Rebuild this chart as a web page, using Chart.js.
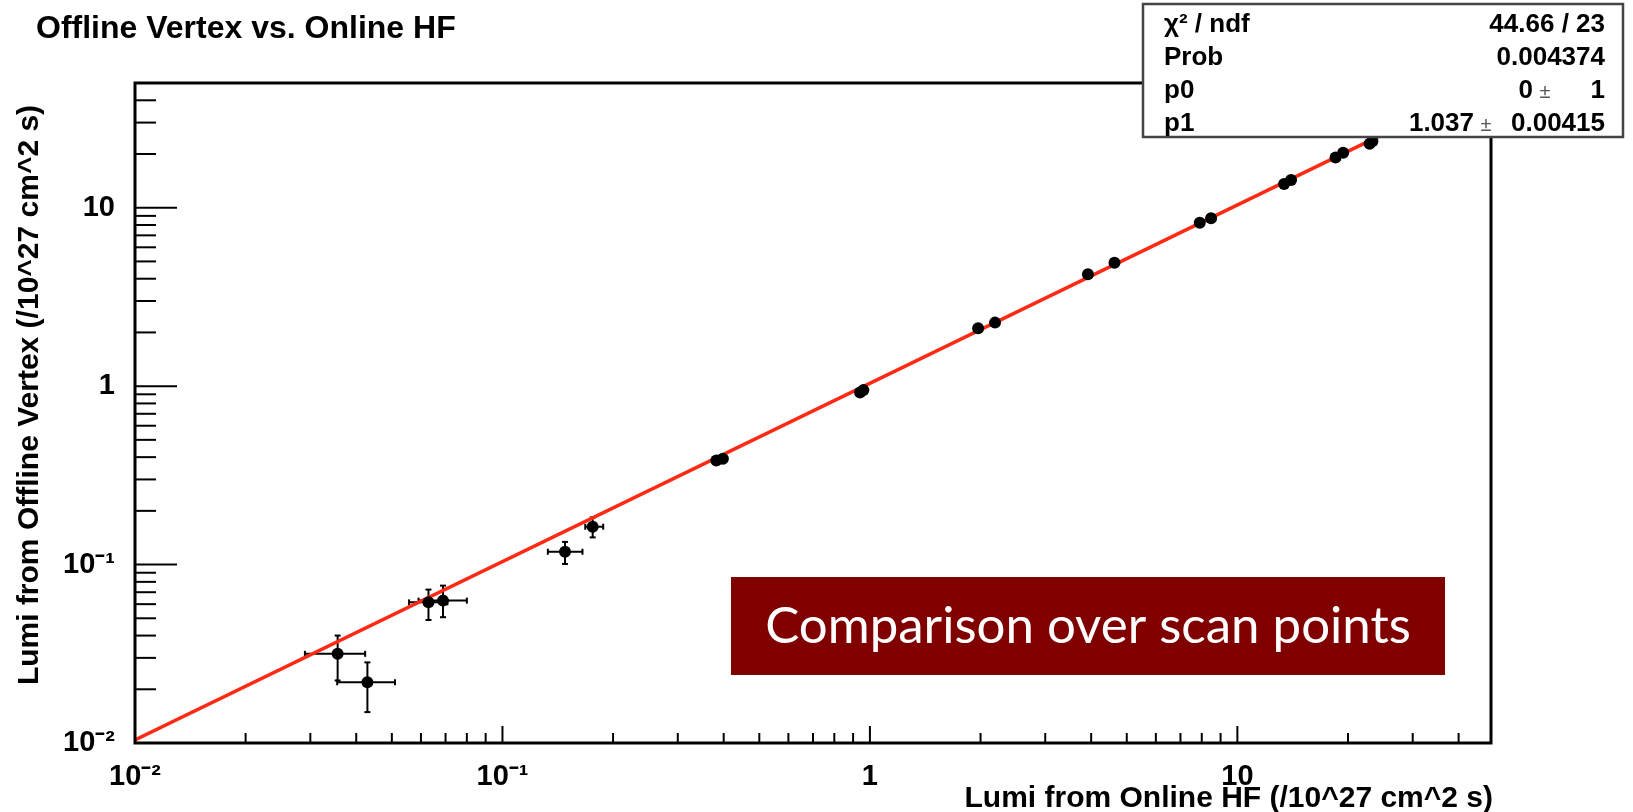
<!DOCTYPE html>
<html>
<head>
<meta charset="utf-8">
<script src="https://cdn.jsdelivr.net/npm/chart.js@4.4.1/dist/chart.umd.min.js"></script>
<style>
  html, body { margin: 0; padding: 0; background: #fff; }
  #wrap { position: relative; width: 1633px; height: 812px; }
</style>
</head>
<body>
<div id="wrap"><canvas id="myChart"></canvas></div>
<script>
// scan points, lumi in units of 10^27 cm^-2 s^-1
const hfLumi  = [0.0356, 0.0429, 0.0629, 0.0689, 0.148, 0.176, 0.382, 0.398, 0.940, 0.960, 1.97, 2.19, 3.92, 4.63, 7.90, 8.48, 13.4, 14.0, 18.5, 19.4, 22.9, 23.3]
const vtxLumi = [0.0316, 0.0219, 0.0614, 0.0628, 0.118, 0.163, 0.383, 0.392, 0.920, 0.950, 2.11, 2.27, 4.24, 4.92, 8.24, 8.72, 13.6, 14.3, 19.1, 20.3, 22.8, 23.6]

// error bar ends (only the low-lumi points have visible bars)
const hfLo  = [0.0290, 0.0355, 0.0557, 0.0591, 0.1329, 0.168]
const hfHi  = [0.0423, 0.0510, 0.0708, 0.0800, 0.1651, 0.188]
const vtxLo = [0.0224, 0.0149, 0.0489, 0.0507, 0.1008, 0.142]
const vtxHi = [0.0400, 0.0283, 0.0724, 0.0762, 0.134, 0.1837]

// fitted line ends
const fitX = [0.01, 24.8]
const fitY = [0.0104, 25.7]

const decades = [0.01, 0.1, 1, 10]
const decadeLabels = ["10\u207B\u00B2", "10\u207B\u00B9", "1", "10"]

const statNames  = ["\u03C7\u00B2 / ndf", "Prob", "p0", "p1"]
const statValues = ["44.66 / 23", "0.004374", "0", "1.037"]
const statErrors = ["", "", "1", "0.00415"]

const minorSteps = [1, 2, 3, 4, 5, 6, 7, 8, 9]
const allTicks = decades.flatMap(d => minorSteps.map(m => +(m * d).toPrecision(2))).filter(v => v < 45)

const FONT = '"Liberation Sans", Arial, Helvetica, sans-serif'

function tickLabel(v) {
    const i = decades.indexOf(v)
    return i >= 0 ? decadeLabels[i] : ""
}

function line(ctx, x1, y1, x2, y2) {
    ctx.beginPath()
    ctx.moveTo(x1, y1)
    ctx.lineTo(x2, y2)
    ctx.stroke()
}

const rootStyle = {
    id: "rootStyle",
    beforeDatasetsDraw(chart) {
        const { ctx, chartArea: a, scales: { x, y } } = chart
        ctx.save()
        ctx.beginPath()
        ctx.rect(a.left, a.top, a.width, a.height)
        ctx.clip()
        ctx.strokeStyle = "#000"
        ctx.lineWidth = 2
        const cap = 3
        hfLo.forEach((_, i) => {
            const px = x.getPixelForValue(hfLumi[i])
            const py = y.getPixelForValue(vtxLumi[i])
            const xl = x.getPixelForValue(hfLo[i]), xh = x.getPixelForValue(hfHi[i])
            const yl = y.getPixelForValue(vtxLo[i]), yh = y.getPixelForValue(vtxHi[i])
            line(ctx, xl, py, xh, py)
            line(ctx, px, yl, px, yh)
            line(ctx, xl, py - cap, xl, py + cap)
            line(ctx, xh, py - cap, xh, py + cap)
            line(ctx, px - cap, yl, px + cap, yl)
            line(ctx, px - cap, yh, px + cap, yh)
        })
        ctx.restore()
    },
    afterDatasetsDraw(chart) {
        const { ctx, chartArea: a, scales: { x, y } } = chart
        ctx.save()
        ctx.strokeStyle = "#000"
        ctx.lineWidth = 2
        x.ticks.forEach(t => {
            const px = x.getPixelForValue(t.value)
            const len = decades.includes(t.value) ? 17 : 10
            line(ctx, px, a.bottom, px, a.bottom - len)
        })
        y.ticks.forEach(t => {
            const py = y.getPixelForValue(t.value)
            const len = decades.includes(t.value) ? 42 : 21
            line(ctx, a.left, py, a.left + len, py)
        })
        ctx.lineWidth = 3
        ctx.strokeRect(a.left, a.top, a.width, a.height)
        ctx.restore()
    },
    afterDraw(chart) {
        const { ctx } = chart
        ctx.save()
        ctx.fillStyle = "#000"

        // title
        ctx.font = "bold 32px " + FONT
        ctx.textAlign = "left"
        ctx.textBaseline = "alphabetic"
        ctx.fillText("Offline Vertex vs. Online HF", 36, 38)

        // x axis title
        ctx.font = "bold 30px " + FONT
        ctx.textAlign = "right"
        ctx.fillText("Lumi from Online HF (/10^27 cm^2 s)", 1493, 807)

        // y axis title
        ctx.save()
        ctx.translate(38, 395)
        ctx.rotate(-Math.PI / 2)
        ctx.textAlign = "center"
        ctx.fillText("Lumi from Offline Vertex (/10^27 cm^2 s)", 0, 0)
        ctx.restore()

        // stats box
        ctx.fillStyle = "#fff"
        ctx.fillRect(1143, 4, 480, 133)
        ctx.strokeStyle = "#444"
        ctx.lineWidth = 2.5
        ctx.strokeRect(1143, 4, 480, 133)
        ctx.fillStyle = "#000"
        ctx.font = "bold 26px " + FONT
        statNames.forEach((name, i) => {
            const base = 32 + i * 33
            ctx.textAlign = "left"
            ctx.fillText(name, 1164, base)
            ctx.textAlign = "right"
            if (statErrors[i]) {
                ctx.fillText(statErrors[i], 1605, base)
                const pmX = i === 2 ? 1545 : 1486
                ctx.font = "20px " + FONT
                ctx.fillStyle = "#555"
                ctx.textAlign = "center"
                ctx.fillText("\u00B1", pmX, base)
                ctx.fillStyle = "#000"
                ctx.font = "bold 26px " + FONT
                ctx.textAlign = "right"
                ctx.fillText(statValues[i], pmX - 12, base)
            } else {
                ctx.fillText(statValues[i], 1605, base)
            }
        })

        // label box
        ctx.fillStyle = "#800000"
        ctx.fillRect(731, 577, 714, 98)
        ctx.fillStyle = "#fff"
        ctx.font = "51px Lato, \"Open Sans\", sans-serif"
        ctx.textAlign = "center"
        ctx.textBaseline = "middle"
        ctx.fillText("Comparison over scan points", 1088, 627)
        ctx.restore()
    }
}

const chartEl = document.getElementById("myChart")
Chart.defaults.font.family = FONT

new Chart(chartEl, {
    type: "scatter",
    data: {
        datasets: [
            {
                label: "scan points",
                data: hfLumi.map((v, i) => ({ x: v, y: vtxLumi[i] })),
                pointRadius: 6,
                pointHoverRadius: 6,
                backgroundColor: "#000",
                borderColor: "#000",
                borderWidth: 0
            },
            {
                label: "fit",
                data: fitX.map((v, i) => ({ x: v, y: fitY[i] })),
                showLine: true,
                pointRadius: 0,
                borderColor: "#ff2a14",
                borderWidth: 3.5,
                fill: false
            }
        ]
    },
    options: {
        responsive: true,
        maintainAspectRatio: false,
        animation: false,
        events: [],
        layout: { padding: { top: 83, right: 142, left: 0, bottom: 0 } },
        scales: {
            x: {
                type: "logarithmic",
                min: 0.01,
                max: 49,
                afterBuildTicks: s => { s.ticks = allTicks.map(v => ({ value: v })) },
                afterFit: s => { s.height = 69 },
                grid: { display: false },
                border: { display: false },
                ticks: {
                    autoSkip: false,
                    maxRotation: 0,
                    padding: 9,
                    color: "#000",
                    font: { size: 29, weight: "bold" },
                    callback: v => tickLabel(v)
                }
            },
            y: {
                type: "logarithmic",
                min: 0.01,
                max: 50,
                afterBuildTicks: s => { s.ticks = allTicks.map(v => ({ value: v })) },
                afterFit: s => { s.width = 135 },
                grid: { display: false },
                border: { display: false },
                ticks: {
                    autoSkip: false,
                    padding: 12,
                    color: "#000",
                    font: { size: 29, weight: "bold" },
                    callback: v => tickLabel(v)
                }
            }
        },
        plugins: {
            legend: { display: false },
            title: { display: false },
            tooltip: { enabled: false }
        }
    },
    plugins: [rootStyle]
})
</script>
</body>
</html>
